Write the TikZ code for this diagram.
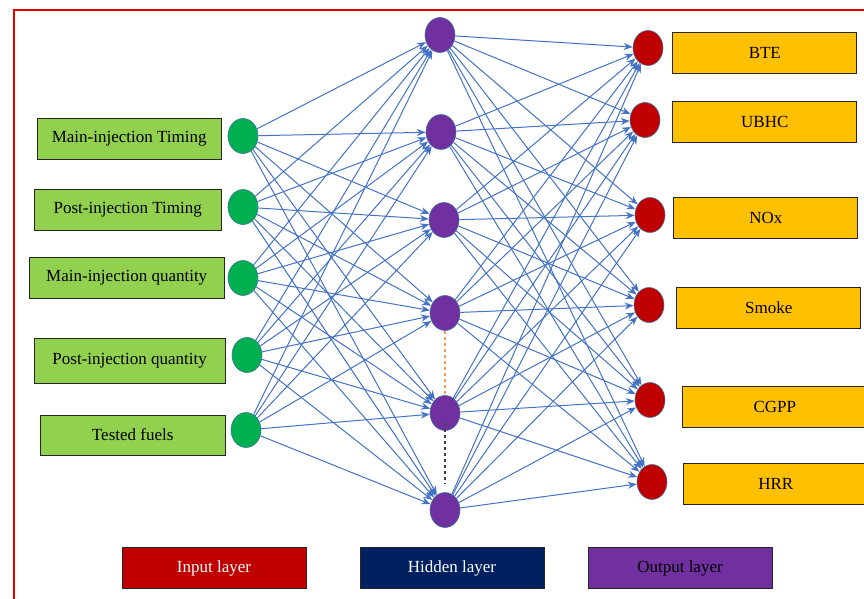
\documentclass[tikz,border=0pt]{standalone}
\usepackage{fontspec}
\setmainfont{Liberation Serif}
\usetikzlibrary{positioning, shapes.geometric, arrows.meta}

\definecolor{boxgreen}{HTML}{92D050}
\definecolor{ingreen}{HTML}{00B050}
\definecolor{hidpurple}{HTML}{7030A0}
\definecolor{outred}{HTML}{C00000}
\definecolor{outgold}{HTML}{FFC000}
\definecolor{linkblue}{HTML}{4472C4}
\definecolor{navy}{HTML}{002060}
\definecolor{ringblue}{HTML}{41719C}
\definecolor{dashorange}{HTML}{F19A5A}

\tikzset{
  neuron/.style={ellipse,draw=ringblue,line width=0.6pt,minimum width=30pt,minimum height=35pt,inner sep=0pt},
  labelbox/.style={rectangle,draw=black!85,line width=1pt,minimum width=184pt,minimum height=41pt,inner sep=0pt,font=\fontsize{17}{20}\selectfont},
  link/.style={draw=linkblue,line width=1pt,-{Stealth[length=9pt,width=7pt]}}
}

\begin{document}
\begin{tikzpicture}[x=1pt,y=-1pt]
        \useasboundingbox (0,0) rectangle (864,599);
        \clip (0,0) rectangle (864,599);
        \draw[red!90!black, line width=2pt] (14,10) rectangle (890,630);

        % input layer
        \node[neuron,fill=ingreen](in1) at (243,136){};
        \node[neuron,fill=ingreen](in2) at (243,207){};
        \node[neuron,fill=ingreen](in3) at (243,278){};
        \node[neuron,fill=ingreen](in4) at (247,355){};
        \node[neuron,fill=ingreen](in5) at (246,430){};

        \node[labelbox,fill=boxgreen](tin1)[left = 6pt of in1, yshift=-3pt]{Main-injection Timing};
        \node[labelbox,fill=boxgreen,minimum width=187pt](tin2)[left = 6pt of in2, yshift=-3pt]{Post-injection Timing};
        \node[labelbox,fill=boxgreen,minimum width=195pt](tin3)[left = 3pt of in3]{Main-injection quantity};
        \node[labelbox,fill=boxgreen,minimum width=191pt,minimum height=45pt](tin4)[left = 6pt of in4, yshift=-6pt]{Post-injection quantity};
        \node[labelbox,fill=boxgreen,minimum width=185pt,minimum height=40pt](tin5)[left = 5pt of in5, yshift=-5pt]{Tested fuels};

        % hidden layer
        \node[neuron,fill=hidpurple](hid1) at (440,35){};
        \node[neuron,fill=hidpurple](hid2) at (441,132){};
        \node[neuron,fill=hidpurple](hid3) at (444,220){};
        \node[neuron,fill=hidpurple](hid4) at (445,313){};
        \node[neuron,fill=hidpurple](hid5) at (445,413){};
        \node[neuron,fill=hidpurple](hid6) at (445,510){};

        % output layer
        \node[neuron,fill=outred](out1) at (648,48){};
        \node[neuron,fill=outred](out2) at (645,120){};
        \node[neuron,fill=outred](out3) at (650,215){};
        \node[neuron,fill=outred](out4) at (649,305){};
        \node[neuron,fill=outred](out5) at (650,400){};
        \node[neuron,fill=outred](out6) at (652,482){};

        \node[labelbox,fill=outgold](tout1)[right = 9pt of out1, yshift=-5pt]{BTE};
        \node[labelbox,fill=outgold](tout2)[right = 12pt of out2, yshift=-2pt]{UBHC};
        \node[labelbox,fill=outgold](tout3)[right = 8pt of out3, yshift=-3pt]{NOx};
        \node[labelbox,fill=outgold](tout4)[right = 12pt of out4, yshift=-3pt]{Smoke};
        \node[labelbox,fill=outgold](tout5)[right = 17pt of out5, yshift=-7pt]{CGPP};
        \node[labelbox,fill=outgold](tout6)[right = 16pt of out6, yshift=-2pt]{HRR};

        % connections
        \foreach \i in {1,...,5}
          \foreach \j in {1,...,6}
            \draw[link] (in\i) -- (hid\j);
        \foreach \j in {1,...,6}
          \foreach \k in {1,...,6}
            \draw[link] (hid\j) -- (out\k);

        \draw[dashorange, dashed, line width=1.2pt] (hid4.south) -- (hid5.north);
        \draw[black!75, dashed, line width=1.2pt] ([yshift=-10pt]hid5.center) -- ([yshift=8pt]hid6.north);

        % legend
        \node[labelbox,fill=outred,text=white](leg1) at (214,568){Input layer};
        \node[labelbox,fill=navy,text=white](leg2) at (452,568){Hidden layer};
        \node[labelbox,fill=hidpurple,text=black](leg3) at (680,568){Output layer};
\end{tikzpicture}
\end{document}
